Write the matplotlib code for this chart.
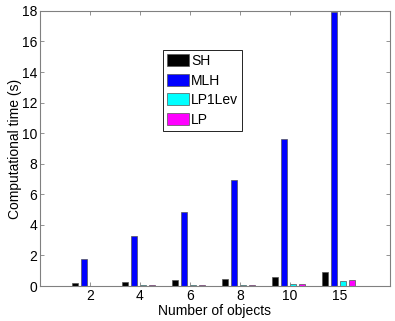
import numpy as np
import matplotlib
matplotlib.use("Agg")
import matplotlib.pyplot as plt

plt.rcParams['font.family'] = ['Liberation Sans', 'DejaVu Sans']

# 数据：各方法计算时间 (s)
n_objects = ['2', '4', '6', '8', '10', '15']
sh = [0.20, 0.26, 0.37, 0.48, 0.59, 0.91]
mlh = [1.74, 3.24, 4.85, 6.96, 9.59, 17.95]
lp1lev = [0.03, 0.04, 0.06, 0.09, 0.13, 0.33]
lp = [0.03, 0.04, 0.06, 0.09, 0.15, 0.37]

series = [('SH', sh, 'black'), ('MLH', mlh, 'blue'),
          ('LP1Lev', lp1lev, 'cyan'), ('LP', lp, 'magenta')]

fig = plt.figure(figsize=(3.95, 3.21), dpi=100)
ax = fig.add_axes([0.101, 0.109, 0.886, 0.857])

x = np.arange(1, len(n_objects) + 1)
step = 0.18
width = 0.125
for i, (name, vals, color) in enumerate(series):
    offset = (i - 1.5) * step - 0.03
    ax.bar(x + offset, vals, width, color=color, edgecolor='#555555',
           linewidth=0.5, label=name)

ax.set_xlim(0, 7)
ax.set_ylim(0, 18)
ax.set_xticks(x)
ax.set_xticklabels(n_objects)
ax.set_yticks(np.arange(0, 19, 2))
ax.tick_params(direction='in', top=True, right=True, labelsize=10,
               length=3, width=0.6, color='#808080', pad=2)
for sp in ax.spines.values():
    sp.set_color('#808080')
    sp.set_linewidth(0.8)

ax.set_xlabel('Number of objects', fontsize=10, labelpad=1)
ax.set_ylabel('Computational time (s)', fontsize=10, labelpad=0)

leg = ax.legend(loc='upper left', bbox_to_anchor=(0.351, 0.858),
                borderaxespad=0, fancybox=False, framealpha=1,
                fontsize=10, handlelength=1.6, handleheight=0.95,
                handletextpad=0.15, labelspacing=0.4, borderpad=0.3)
leg.get_frame().set_edgecolor('black')
leg.get_frame().set_linewidth(0.6)

fig.savefig('out.png', dpi=100)
